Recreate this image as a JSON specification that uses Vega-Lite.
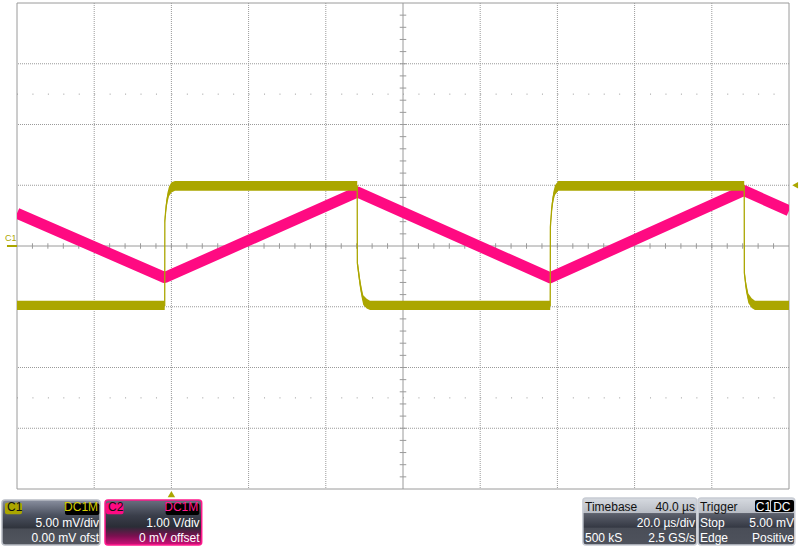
{
  "$schema": "https://vega.github.io/schema/vega-lite/v6.json",
  "width": 772,
  "height": 486,
  "autosize": {"type": "none"},
  "padding": {"left": 17, "top": 3, "right": 11, "bottom": 58},
  "background": "#ffffff",
  "view": {"stroke": null},
  "config": {"font": "Liberation Sans"},
  "resolve": {"scale": {"y": "independent", "color": "independent"}},
  "datasets": {
    "c1": [
      {"i": 1, "t": 0, "mV": -4.88, "lo": -5.27, "hi": -4.5},
      {"i": 2, "t": 38.27, "mV": -4.88, "lo": -5.27, "hi": -4.5},
      {"i": 3, "t": 38.3, "mV": 2.1, "lo": 1.8, "hi": 2.4},
      {"i": 4, "t": 38.65, "mV": 3.3, "lo": 2.9, "hi": 3.7},
      {"i": 5, "t": 38.99, "mV": 4.0, "lo": 3.6, "hi": 4.4},
      {"i": 6, "t": 39.38, "mV": 4.5, "lo": 4.1, "hi": 4.9},
      {"i": 7, "t": 40.03, "mV": 4.8, "lo": 4.4, "hi": 5.25},
      {"i": 8, "t": 40.93, "mV": 4.95, "lo": 4.55, "hi": 5.35},
      {"i": 9, "t": 88.14, "mV": 4.95, "lo": 4.55, "hi": 5.35},
      {"i": 10, "t": 88.17, "mV": -1.4, "lo": -1.7, "hi": -1.1},
      {"i": 11, "t": 88.42, "mV": -2.0, "lo": -2.4, "hi": -1.6},
      {"i": 12, "t": 88.86, "mV": -3.05, "lo": -3.45, "hi": -2.65},
      {"i": 13, "t": 89.3, "mV": -3.87, "lo": -4.25, "hi": -3.45},
      {"i": 14, "t": 89.71, "mV": -4.44, "lo": -4.85, "hi": -4.05},
      {"i": 15, "t": 90.6, "mV": -4.75, "lo": -5.15, "hi": -4.35},
      {"i": 16, "t": 91.45, "mV": -4.88, "lo": -5.27, "hi": -4.5},
      {"i": 17, "t": 138.14, "mV": -4.88, "lo": -5.27, "hi": -4.5},
      {"i": 18, "t": 138.18, "mV": 1.56, "lo": 1.25, "hi": 1.9},
      {"i": 19, "t": 138.53, "mV": 3.1, "lo": 2.7, "hi": 3.5},
      {"i": 20, "t": 138.94, "mV": 4.06, "lo": 3.65, "hi": 4.45},
      {"i": 21, "t": 139.38, "mV": 4.6, "lo": 4.2, "hi": 5.0},
      {"i": 22, "t": 140.23, "mV": 4.95, "lo": 4.55, "hi": 5.35},
      {"i": 23, "t": 188.4, "mV": 4.95, "lo": 4.55, "hi": 5.35},
      {"i": 24, "t": 188.43, "mV": -2.2, "lo": -2.5, "hi": -1.9},
      {"i": 25, "t": 188.86, "mV": -3.35, "lo": -3.75, "hi": -2.95},
      {"i": 26, "t": 189.46, "mV": -4.3, "lo": -4.7, "hi": -3.9},
      {"i": 27, "t": 190.34, "mV": -4.7, "lo": -5.1, "hi": -4.3},
      {"i": 28, "t": 191.19, "mV": -4.88, "lo": -5.27, "hi": -4.5},
      {"i": 29, "t": 200, "mV": -4.88, "lo": -5.27, "hi": -4.5}
    ],
    "c2": [
      {"t": 0, "V": 0.538},
      {"t": 38.3, "V": -0.52},
      {"t": 88.2, "V": 0.89},
      {"t": 138.1, "V": -0.523},
      {"t": 188.3, "V": 0.914},
      {"t": 200, "V": 0.579}
    ],
    "vgrid": [{"t": 20}, {"t": 40}, {"t": 60}, {"t": 80}, {"t": 120}, {"t": 140}, {"t": 160}, {"t": 180}],
    "hgrid": [{"d": -3}, {"d": -2}, {"d": -1}, {"d": 1}, {"d": 2}, {"d": 3}],
    "xticks": [{"t":4},{"t":8},{"t":12},{"t":16},{"t":20},{"t":24},{"t":28},{"t":32},{"t":36},{"t":40},{"t":44},{"t":48},{"t":52},{"t":56},{"t":60},{"t":64},{"t":68},{"t":72},{"t":76},{"t":80},{"t":84},{"t":88},{"t":92},{"t":96},{"t":104},{"t":108},{"t":112},{"t":116},{"t":120},{"t":124},{"t":128},{"t":132},{"t":136},{"t":140},{"t":144},{"t":148},{"t":152},{"t":156},{"t":160},{"t":164},{"t":168},{"t":172},{"t":176},{"t":180},{"t":184},{"t":188},{"t":192},{"t":196}],
    "yticks": [{"d":-3.8},{"d":-3.6},{"d":-3.4},{"d":-3.2},{"d":-3},{"d":-2.8},{"d":-2.6},{"d":-2.4},{"d":-2.2},{"d":-2},{"d":-1.8},{"d":-1.6},{"d":-1.4},{"d":-1.2},{"d":-1},{"d":-0.8},{"d":-0.6},{"d":-0.4},{"d":-0.2},{"d":0.2},{"d":0.4},{"d":0.6},{"d":0.8},{"d":1},{"d":1.2},{"d":1.4},{"d":1.6},{"d":1.8},{"d":2},{"d":2.2},{"d":2.4},{"d":2.6},{"d":2.8},{"d":3},{"d":3.2},{"d":3.4},{"d":3.6},{"d":3.8}],
    "labels": [
      {"text": "C1", "t": -2.6, "d": -4.37, "role": "dark", "side": "left"},
      {"text": "DC1M", "t": 21.0, "d": -4.37, "role": "c1", "side": "right"},
      {"text": "5.00 mV/div", "t": 21.24, "d": -4.63, "role": "value", "side": "right"},
      {"text": "0.00 mV ofst", "t": 21.24, "d": -4.865, "role": "value", "side": "right"},
      {"text": "C2", "t": 23.6, "d": -4.37, "role": "dark", "side": "left"},
      {"text": "DC1M", "t": 46.97, "d": -4.37, "role": "c2", "side": "right"},
      {"text": "1.00 V/div", "t": 47.3, "d": -4.63, "role": "value", "side": "right"},
      {"text": "0 mV offset", "t": 47.3, "d": -4.865, "role": "value", "side": "right"},
      {"text": "Timebase", "t": 147.15, "d": -4.37, "role": "dark", "side": "left"},
      {"text": "40.0 µs", "t": 175.65, "d": -4.37, "role": "dark", "side": "right"},
      {"text": "20.0 µs/div", "t": 175.65, "d": -4.63, "role": "value", "side": "right"},
      {"text": "500 kS", "t": 147.15, "d": -4.865, "role": "value", "side": "left"},
      {"text": "2.5 GS/s", "t": 175.65, "d": -4.865, "role": "value", "side": "right"},
      {"text": "Trigger", "t": 176.94, "d": -4.37, "role": "dark", "side": "left"},
      {"text": "C1", "t": 191.4, "d": -4.37, "role": "value", "side": "left"},
      {"text": "DC", "t": 195.9, "d": -4.37, "role": "value", "side": "left"},
      {"text": "Stop", "t": 176.94, "d": -4.63, "role": "value", "side": "left"},
      {"text": "5.00 mV", "t": 201.3, "d": -4.63, "role": "value", "side": "right"},
      {"text": "Edge", "t": 176.94, "d": -4.865, "role": "value", "side": "left"},
      {"text": "Positive", "t": 201.3, "d": -4.865, "role": "value", "side": "right"}
    ]
  },
  "layer": [
    {
      "data": {"name": "vgrid"},
      "mark": {"type": "rule", "color": "#9a9a9a", "strokeWidth": 1, "strokeDash": [1, 1]},
      "encoding": {"x": {"field": "t", "type": "quantitative", "scale": {"domain": [0, 200], "nice": false, "zero": false}, "axis": null}}
    },
    {
      "data": {"name": "hgrid"},
      "mark": {"type": "rule", "color": "#9a9a9a", "strokeWidth": 1, "strokeDash": [1, 1]},
      "encoding": {"y": {"field": "d", "type": "quantitative", "scale": {"domain": [-4, 4], "nice": false, "zero": false}, "axis": null}}
    },
    {
      "data": {"values": [{"d": 2.5}, {"d": -2.5}]},
      "mark": {"type": "rule", "color": "#9a9a9a", "strokeWidth": 1, "strokeDash": [1, 14.44]},
      "encoding": {
        "x": {"datum": 0, "type": "quantitative", "scale": {"domain": [0, 200], "nice": false, "zero": false}, "axis": null},
        "x2": {"datum": 200},
        "y": {"field": "d", "type": "quantitative", "scale": {"domain": [-4, 4], "nice": false, "zero": false}, "axis": null}
      }
    },
    {
      "data": {"values": [{}]},
      "mark": {"type": "rule", "color": "#9a9a9a", "strokeWidth": 1},
      "encoding": {"x": {"datum": 100, "type": "quantitative", "scale": {"domain": [0, 200], "nice": false, "zero": false}, "axis": null}}
    },
    {
      "data": {"values": [{}]},
      "mark": {"type": "rule", "color": "#9a9a9a", "strokeWidth": 1},
      "encoding": {"y": {"datum": 0, "type": "quantitative", "scale": {"domain": [-4, 4], "nice": false, "zero": false}, "axis": null}}
    },
    {
      "data": {"name": "xticks"},
      "mark": {"type": "rule", "color": "#9a9a9a", "strokeWidth": 1},
      "encoding": {
        "x": {"field": "t", "type": "quantitative", "scale": {"domain": [0, 200], "nice": false, "zero": false}, "axis": null},
        "y": {"datum": -0.045, "type": "quantitative", "scale": {"domain": [-4, 4], "nice": false, "zero": false}, "axis": null},
        "y2": {"datum": 0.045}
      }
    },
    {
      "data": {"name": "yticks"},
      "mark": {"type": "rule", "color": "#9a9a9a", "strokeWidth": 1},
      "encoding": {
        "y": {"field": "d", "type": "quantitative", "scale": {"domain": [-4, 4], "nice": false, "zero": false}, "axis": null},
        "x": {"datum": 99.15, "type": "quantitative", "scale": {"domain": [0, 200], "nice": false, "zero": false}, "axis": null},
        "x2": {"datum": 100.85}
      }
    },
    {
      "data": {"values": [{}]},
      "mark": {"type": "rect", "fill": "#ffffff", "fillOpacity": 0, "stroke": "#9a9a9a", "strokeWidth": 1},
      "encoding": {
        "x": {"datum": 0, "type": "quantitative", "scale": {"domain": [0, 200], "nice": false, "zero": false}, "axis": null},
        "x2": {"datum": 200},
        "y": {"datum": -4, "type": "quantitative", "scale": {"domain": [-4, 4], "nice": false, "zero": false}, "axis": null},
        "y2": {"datum": 4}
      }
    },
    {
      "data": {"name": "c2"},
      "mark": {"type": "line", "color": "#ff0a82", "strokeWidth": 11, "strokeJoin": "round", "clip": true},
      "encoding": {
        "x": {"field": "t", "type": "quantitative", "scale": {"domain": [0, 200], "nice": false, "zero": false}, "axis": null},
        "y": {"field": "V", "type": "quantitative", "scale": {"domain": [-4, 4], "nice": false, "zero": false}, "axis": null}
      }
    },
    {
      "data": {"name": "c1"},
      "mark": {"type": "area", "color": "#aba600", "opacity": 1, "clip": true},
      "encoding": {
        "x": {"field": "t", "type": "quantitative", "scale": {"domain": [0, 200], "nice": false, "zero": false}, "axis": null},
        "y": {"field": "hi", "type": "quantitative", "scale": {"domain": [-20, 20], "nice": false, "zero": false}, "axis": null},
        "y2": {"field": "lo"}
      }
    },
    {
      "data": {"name": "c1"},
      "mark": {"type": "line", "color": "#aba600", "strokeWidth": 1.3, "clip": true},
      "encoding": {
        "x": {"field": "t", "type": "quantitative", "scale": {"domain": [0, 200], "nice": false, "zero": false}, "axis": null},
        "y": {"field": "mV", "type": "quantitative", "scale": {"domain": [-20, 20], "nice": false, "zero": false}, "axis": null},
        "order": {"field": "i", "type": "quantitative"}
      }
    },
    {
      "data": {"values": [{"mV": 0}]},
      "mark": {"type": "rule", "color": "#aba600", "strokeWidth": 2},
      "encoding": {
        "x": {"datum": -2.6, "type": "quantitative", "scale": {"domain": [0, 200], "nice": false, "zero": false}, "axis": null},
        "x2": {"datum": 0},
        "y": {"field": "mV", "type": "quantitative", "scale": {"domain": [-20, 20], "nice": false, "zero": false}, "axis": null}
      }
    },
    {
      "data": {"values": [{"label": "C1", "mV": 0.4}]},
      "mark": {"type": "text", "color": "#aba600", "fontSize": 9, "align": "left", "baseline": "alphabetic", "font": "Liberation Sans"},
      "encoding": {
        "x": {"datum": -3.1, "type": "quantitative", "scale": {"domain": [0, 200], "nice": false, "zero": false}, "axis": null},
        "y": {"field": "mV", "type": "quantitative", "scale": {"domain": [-20, 20], "nice": false, "zero": false}, "axis": null},
        "text": {"field": "label"}
      }
    },
    {
      "data": {"values": [{"t": 40}]},
      "mark": {"type": "point", "shape": "triangle-up", "filled": true, "color": "#aba600", "size": 55, "opacity": 1},
      "encoding": {
        "x": {"field": "t", "type": "quantitative", "scale": {"domain": [0, 200], "nice": false, "zero": false}, "axis": null},
        "y": {"datum": -4.085, "type": "quantitative", "scale": {"domain": [-4, 4], "nice": false, "zero": false}, "axis": null}
      }
    },
    {
      "data": {"values": [{"mV": 5.0}]},
      "mark": {"type": "point", "shape": "triangle-left", "filled": true, "color": "#aba600", "size": 45, "opacity": 1},
      "encoding": {
        "x": {"datum": 201.6, "type": "quantitative", "scale": {"domain": [0, 200], "nice": false, "zero": false}, "axis": null},
        "y": {"field": "mV", "type": "quantitative", "scale": {"domain": [-20, 20], "nice": false, "zero": false}, "axis": null}
      }
    },
    {
      "data": {"values": [{"panel": "C1", "t1": -3.89, "t2": 21.5, "d1": -4.18, "d2": -4.92}]},
      "mark": {"type": "rect", "cornerRadius": 3, "stroke": "#b8bcc4", "strokeWidth": 1.5,
        "fill": {"gradient": "linear", "x1": 0, "y1": 0, "x2": 0, "y2": 1, "stops": [
          {"offset": 0, "color": "#8a90a0"}, {"offset": 0.33, "color": "#4c5260"}, {"offset": 0.62, "color": "#30343d"}, {"offset": 0.65, "color": "#4a4e57"}, {"offset": 1, "color": "#52565e"}]}},
      "encoding": {
        "x": {"field": "t1", "type": "quantitative", "scale": {"domain": [0, 200], "nice": false, "zero": false}, "axis": null},
        "x2": {"field": "t2"},
        "y": {"field": "d1", "type": "quantitative", "scale": {"domain": [-4, 4], "nice": false, "zero": false}, "axis": null},
        "y2": {"field": "d2"}
      }
    },
    {
      "data": {"values": [{"panel": "C2", "t1": 22.8, "t2": 47.85, "d1": -4.18, "d2": -4.92}]},
      "mark": {"type": "rect", "cornerRadius": 3, "stroke": "#ff1a8c", "strokeWidth": 1.5,
        "fill": {"gradient": "linear", "x1": 0, "y1": 0, "x2": 0, "y2": 1, "stops": [
          {"offset": 0, "color": "#6a6f80"}, {"offset": 0.35, "color": "#3a3e4a"}, {"offset": 0.6, "color": "#2a2d36"}, {"offset": 0.8, "color": "#7a1050"}, {"offset": 1, "color": "#d0107a"}]}},
      "encoding": {
        "x": {"field": "t1", "type": "quantitative", "scale": {"domain": [0, 200], "nice": false, "zero": false}, "axis": null},
        "x2": {"field": "t2"},
        "y": {"field": "d1", "type": "quantitative", "scale": {"domain": [-4, 4], "nice": false, "zero": false}, "axis": null},
        "y2": {"field": "d2"}
      }
    },
    {
      "data": {"values": [{"panel": "Timebase", "t1": 146.6, "t2": 176.1, "d1": -4.15, "d2": -4.92}, {"panel": "Trigger", "t1": 176.45, "t2": 201.5, "d1": -4.15, "d2": -4.92}]},
      "mark": {"type": "rect", "cornerRadius": 3, "stroke": "#c8ccd4", "strokeWidth": 1.5,
        "fill": {"gradient": "linear", "x1": 0, "y1": 0, "x2": 0, "y2": 1, "stops": [
          {"offset": 0, "color": "#d6dae0"}, {"offset": 0.31, "color": "#b8bcc4"}, {"offset": 0.33, "color": "#5c606c"}, {"offset": 0.62, "color": "#353944"}, {"offset": 0.65, "color": "#4a4e58"}, {"offset": 1, "color": "#4e525c"}]}},
      "encoding": {
        "x": {"field": "t1", "type": "quantitative", "scale": {"domain": [0, 200], "nice": false, "zero": false}, "axis": null},
        "x2": {"field": "t2"},
        "y": {"field": "d1", "type": "quantitative", "scale": {"domain": [-4, 4], "nice": false, "zero": false}, "axis": null},
        "y2": {"field": "d2"}
      }
    },
    {
      "data": {"values": [
        {"tag": "c1", "t1": -3.11, "t2": 1.3, "d1": -4.225, "d2": -4.416},
        {"tag": "c2", "t1": 23.06, "t2": 27.6, "d1": -4.225, "d2": -4.416},
        {"tag": "black", "t1": 12.44, "t2": 21.32, "d1": -4.235, "d2": -4.43},
        {"tag": "black", "t1": 38.52, "t2": 47.23, "d1": -4.235, "d2": -4.43},
        {"tag": "black", "t1": 191.19, "t2": 195.08, "d1": -4.18, "d2": -4.38},
        {"tag": "black", "t1": 195.34, "t2": 201.3, "d1": -4.18, "d2": -4.38}
      ]},
      "mark": {"type": "rect", "cornerRadius": 2},
      "encoding": {
        "x": {"field": "t1", "type": "quantitative", "scale": {"domain": [0, 200], "nice": false, "zero": false}, "axis": null},
        "x2": {"field": "t2"},
        "y": {"field": "d1", "type": "quantitative", "scale": {"domain": [-4, 4], "nice": false, "zero": false}, "axis": null},
        "y2": {"field": "d2"},
        "color": {"field": "tag", "type": "nominal", "scale": {"domain": ["c1", "c2", "black"], "range": ["#aba600", "#ff0a82", "#000000"]}, "legend": null}
      }
    },
    {
      "data": {"name": "labels"},
      "transform": [{"filter": "datum.side === 'left'"}],
      "mark": {"type": "text", "align": "left", "baseline": "alphabetic", "fontSize": 12, "font": "Liberation Sans"},
      "encoding": {
        "x": {"field": "t", "type": "quantitative", "scale": {"domain": [0, 200], "nice": false, "zero": false}, "axis": null},
        "y": {"field": "d", "type": "quantitative", "scale": {"domain": [-4, 4], "nice": false, "zero": false}, "axis": null},
        "text": {"field": "text"},
        "color": {"field": "role", "type": "nominal", "scale": {"domain": ["value", "dark", "c1", "c2"], "range": ["#ffffff", "#111111", "#d4cc00", "#ff1a8c"]}, "legend": null}
      }
    },
    {
      "data": {"name": "labels"},
      "transform": [{"filter": "datum.side === 'right'"}],
      "mark": {"type": "text", "align": "right", "baseline": "alphabetic", "fontSize": 12, "font": "Liberation Sans"},
      "encoding": {
        "x": {"field": "t", "type": "quantitative", "scale": {"domain": [0, 200], "nice": false, "zero": false}, "axis": null},
        "y": {"field": "d", "type": "quantitative", "scale": {"domain": [-4, 4], "nice": false, "zero": false}, "axis": null},
        "text": {"field": "text"},
        "color": {"field": "role", "type": "nominal", "scale": {"domain": ["value", "dark", "c1", "c2"], "range": ["#ffffff", "#111111", "#d4cc00", "#ff1a8c"]}, "legend": null}
      }
    }
  ]
}
